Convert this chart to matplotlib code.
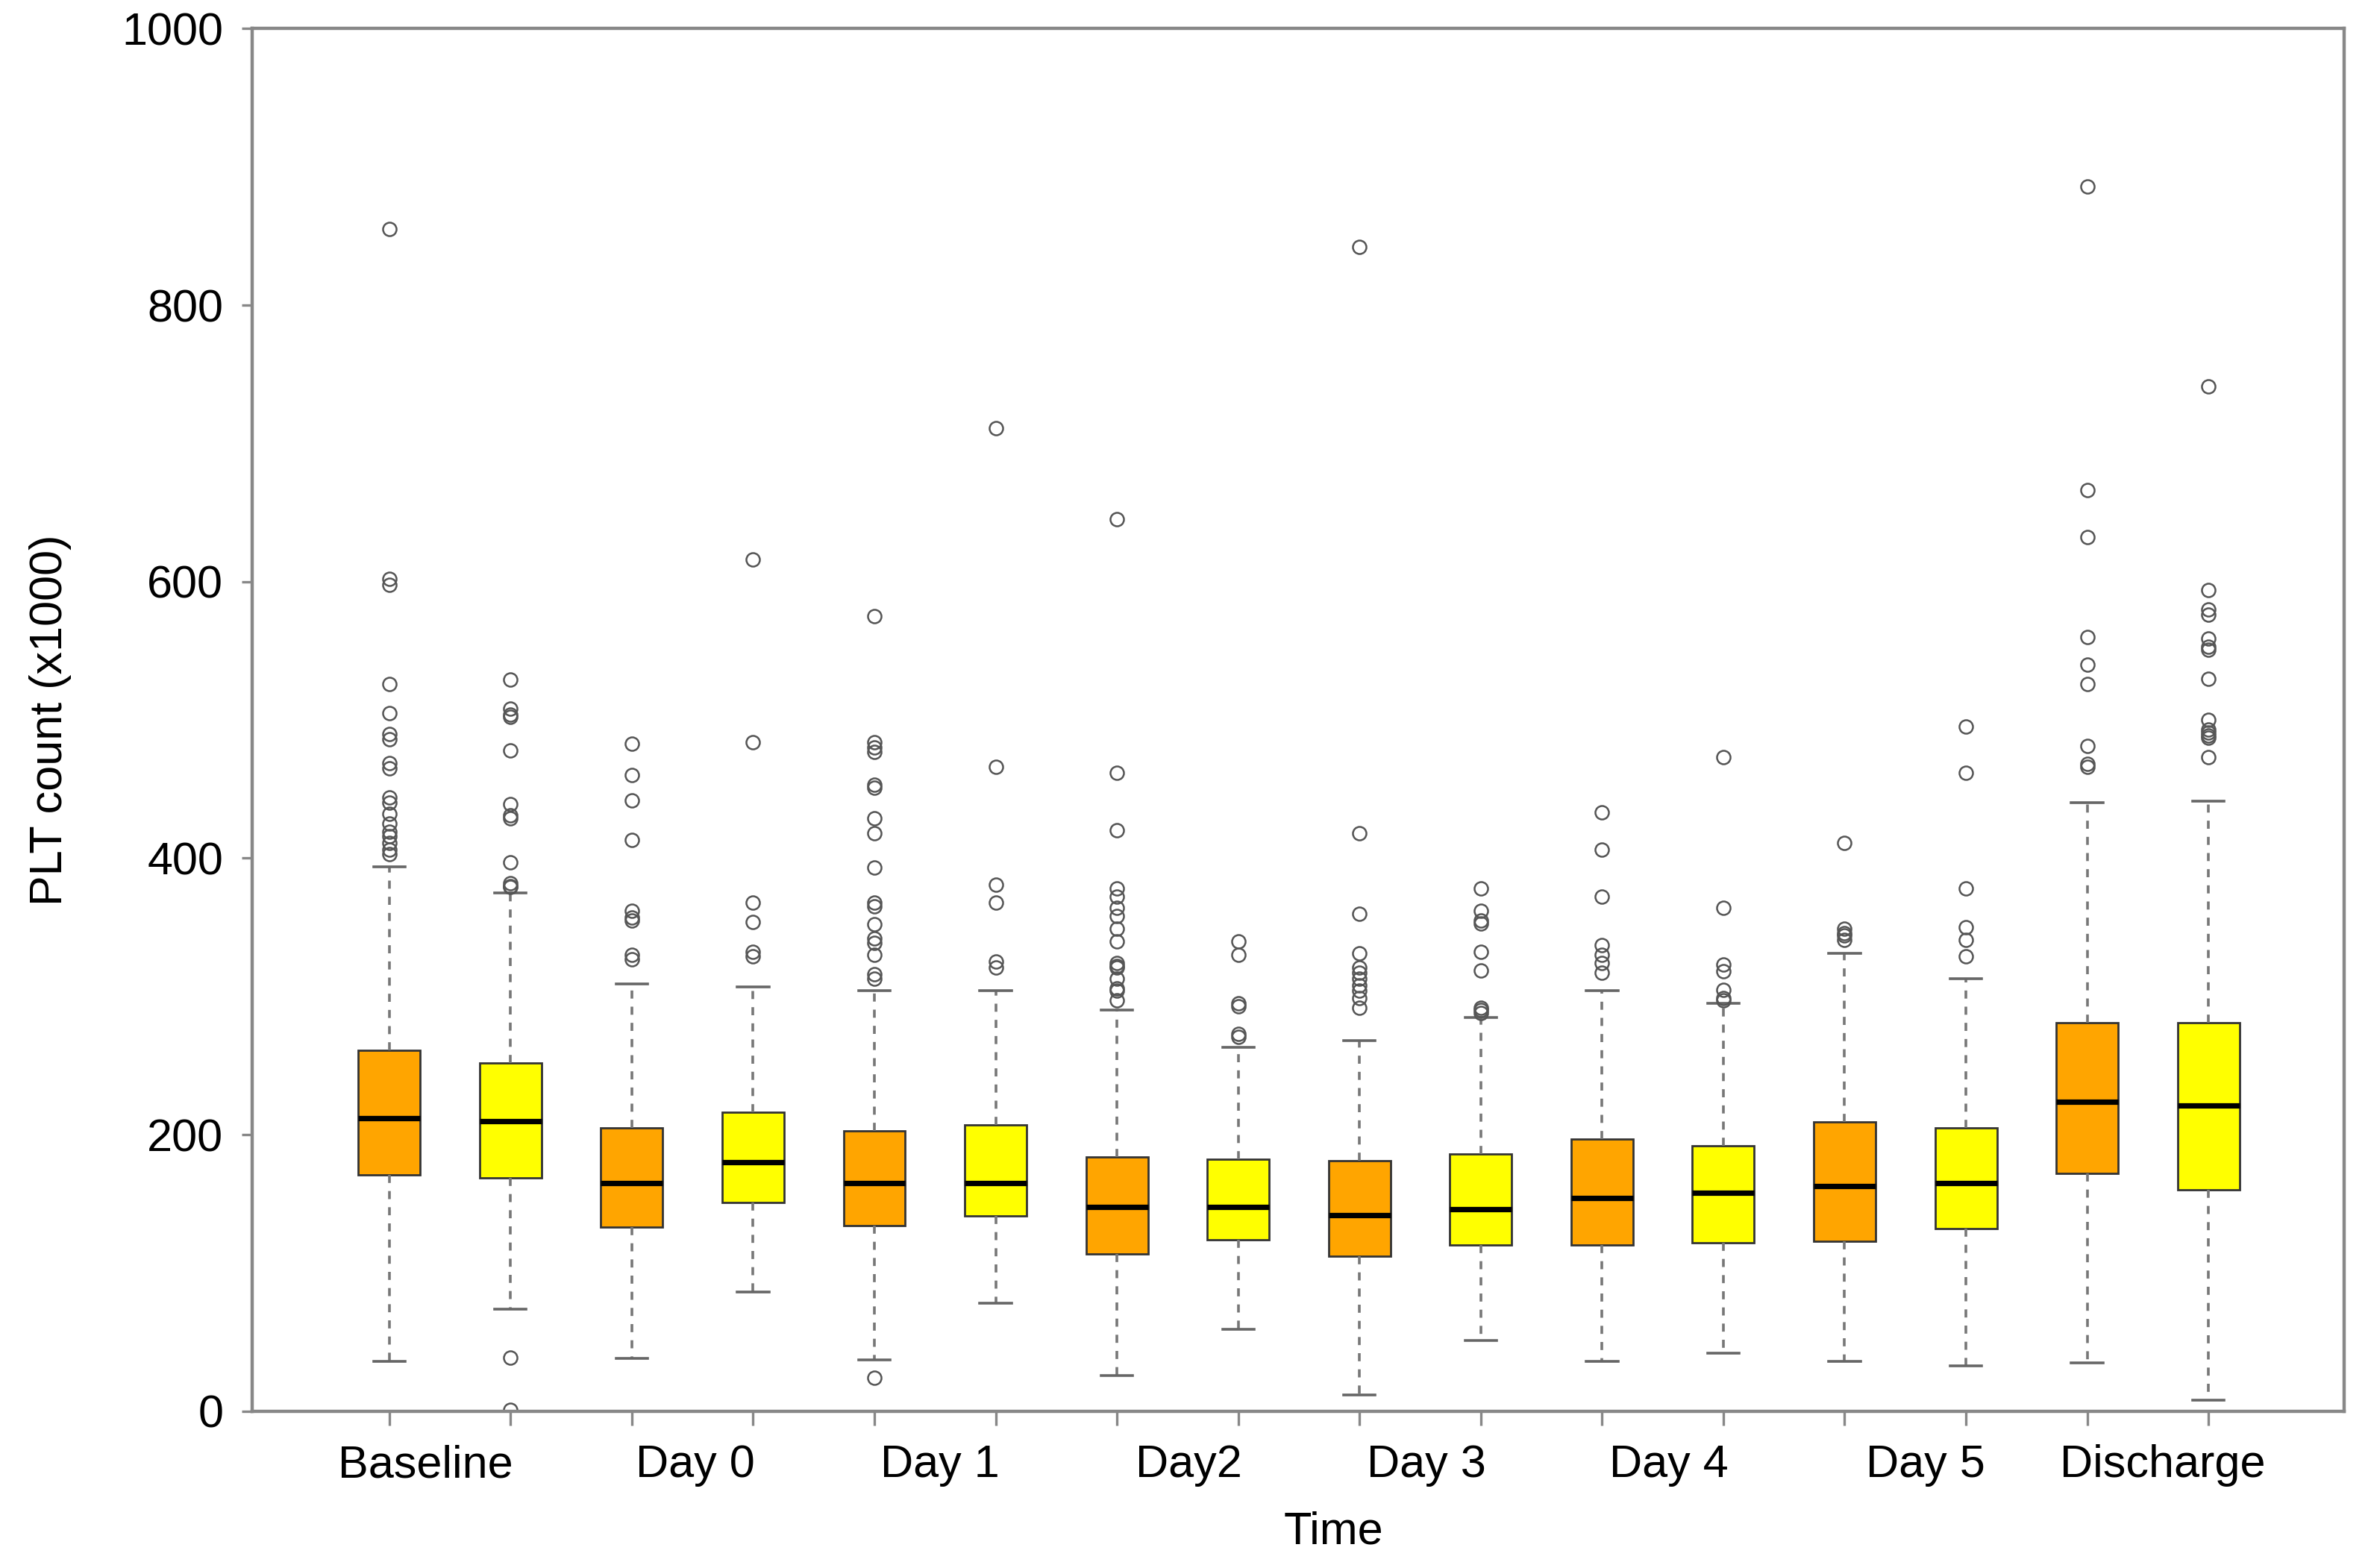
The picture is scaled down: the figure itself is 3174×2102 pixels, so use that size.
import numpy as np
import matplotlib
matplotlib.use("Agg")
import matplotlib.pyplot as plt

plt.rcParams['font.family'] = ['Liberation Sans', 'DejaVu Sans']

# time points, two groups per time point (orange / yellow)
time_labels = ["Baseline", "Day 0", "Day 1", "Day2", "Day 3", "Day 4", "Day 5", "Discharge"]
group_colors = ["#FFA500", "#FFFF00"]

# box statistics, order: Baseline-o, Baseline-y, Day0-o, Day0-y, ...
q1 = [171, 169, 133, 151, 134, 141, 114, 124, 112, 120, 120, 122, 123, 132, 172, 160]
med = [212, 210, 165, 180, 165, 165, 148, 148, 142, 146, 154, 158, 163, 165, 224, 221]
q3 = [261, 252, 205, 216, 203, 207, 184, 182, 181, 186, 197, 192, 209, 205, 281, 281]
whislo = [36, 74, 38, 86, 37, 78, 26, 59, 12, 51, 36, 42, 36, 33, 35, 8]
whishi = [394, 375, 309, 307, 304, 304, 290, 263, 268, 285, 304, 295, 331, 313, 440, 441]

fliers = [
    [855, 602, 598, 526, 505, 490, 486, 469, 465, 444, 440, 432, 425, 419, 416, 411, 406, 403],
    [529, 508, 504, 502, 478, 439, 431, 429, 397, 382, 380, 379, 39, 1],
    [483, 460, 442, 413, 362, 357, 355, 330, 327],
    [616, 484, 368, 354, 332, 329],
    [575, 484, 480, 477, 453, 451, 429, 418, 393, 368, 365, 352, 342, 339, 330, 316, 313, 24],
    [711, 466, 381, 368, 325, 321],
    [645, 462, 420, 378, 372, 364, 358, 349, 340, 324, 322, 321, 313, 306, 304, 297],
    [340, 330, 295, 293, 273, 271],
    [842, 418, 360, 331, 321, 317, 313, 308, 304, 299, 292],
    [378, 362, 355, 353, 332, 319, 292, 290, 288],
    [433, 406, 372, 337, 330, 324, 317],
    [473, 364, 323, 318, 305, 299, 297],
    [411, 349, 346, 344, 341],
    [495, 462, 378, 350, 341, 329],
    [886, 666, 632, 560, 540, 526, 481, 468, 466],
    [741, 594, 580, 576, 559, 553, 551, 530, 500, 493, 491, 489, 487, 473],
]

# the time labels are not quite centred on each pair in the original
label_shift = [-0.2, 0.02, 0.04, 0.09, 0.05, 0.05, 0.17, 0.12]

stats = []
for i in range(len(med)):
    stats.append(dict(q1=q1[i], med=med[i], q3=q3[i], whislo=whislo[i],
                      whishi=whishi[i], fliers=fliers[i]))

positions = np.arange(1, len(stats) + 1)

fig = plt.figure(figsize=(15.87, 10.51), dpi=200)
ax = fig.add_axes([0.1065, 0.100, 0.8835, 0.8817])

bp = ax.bxp(stats, positions=positions, widths=0.51, patch_artist=True,
            showfliers=True, capwidths=0.26,
            boxprops=dict(edgecolor="#333333", linewidth=1.0),
            medianprops=dict(color="black", linewidth=2.6, solid_capstyle="butt"),
            whiskerprops=dict(color="#777777", linewidth=1.3, linestyle=(0, (3, 3))),
            capprops=dict(color="#666666", linewidth=1.3),
            flierprops=dict(marker="o", markerfacecolor="none", markeredgecolor="#555555",
                            markersize=6.5, markeredgewidth=0.9, linestyle="none"))

for i, box in enumerate(bp["boxes"]):
    box.set_facecolor(group_colors[i % 2])

ax.set_xlim(-0.13, 17.12)
ax.set_ylim(0, 1000)

# frame
for sp in ax.spines.values():
    sp.set_color("#888888")
    sp.set_linewidth(1.6)

ax.set_yticks([0, 200, 400, 600, 800, 1000])
ax.tick_params(axis="y", direction="out", length=5, width=1.2, color="#888888",
               labelsize=22, pad=9)

# ticks under every box, labels near the middle of each pair
ax.set_xticks(positions)
ax.set_xticklabels([""] * len(positions))
ax.tick_params(axis="x", which="major", direction="out", length=7, width=1.2, color="#888888")
mids = positions[::2] + 0.5 + np.array(label_shift)
ax.set_xticks(mids, minor=True)
ax.set_xticklabels(time_labels, minor=True)
ax.tick_params(axis="x", which="minor", length=0, labelsize=22, pad=16)

ax.set_xlabel("Time", fontsize=22)
ax.xaxis.set_label_coords(0.517, -0.072)
ax.set_ylabel("PLT count (x1000)", fontsize=22, labelpad=24)

fig.savefig("out.png", dpi=200)
